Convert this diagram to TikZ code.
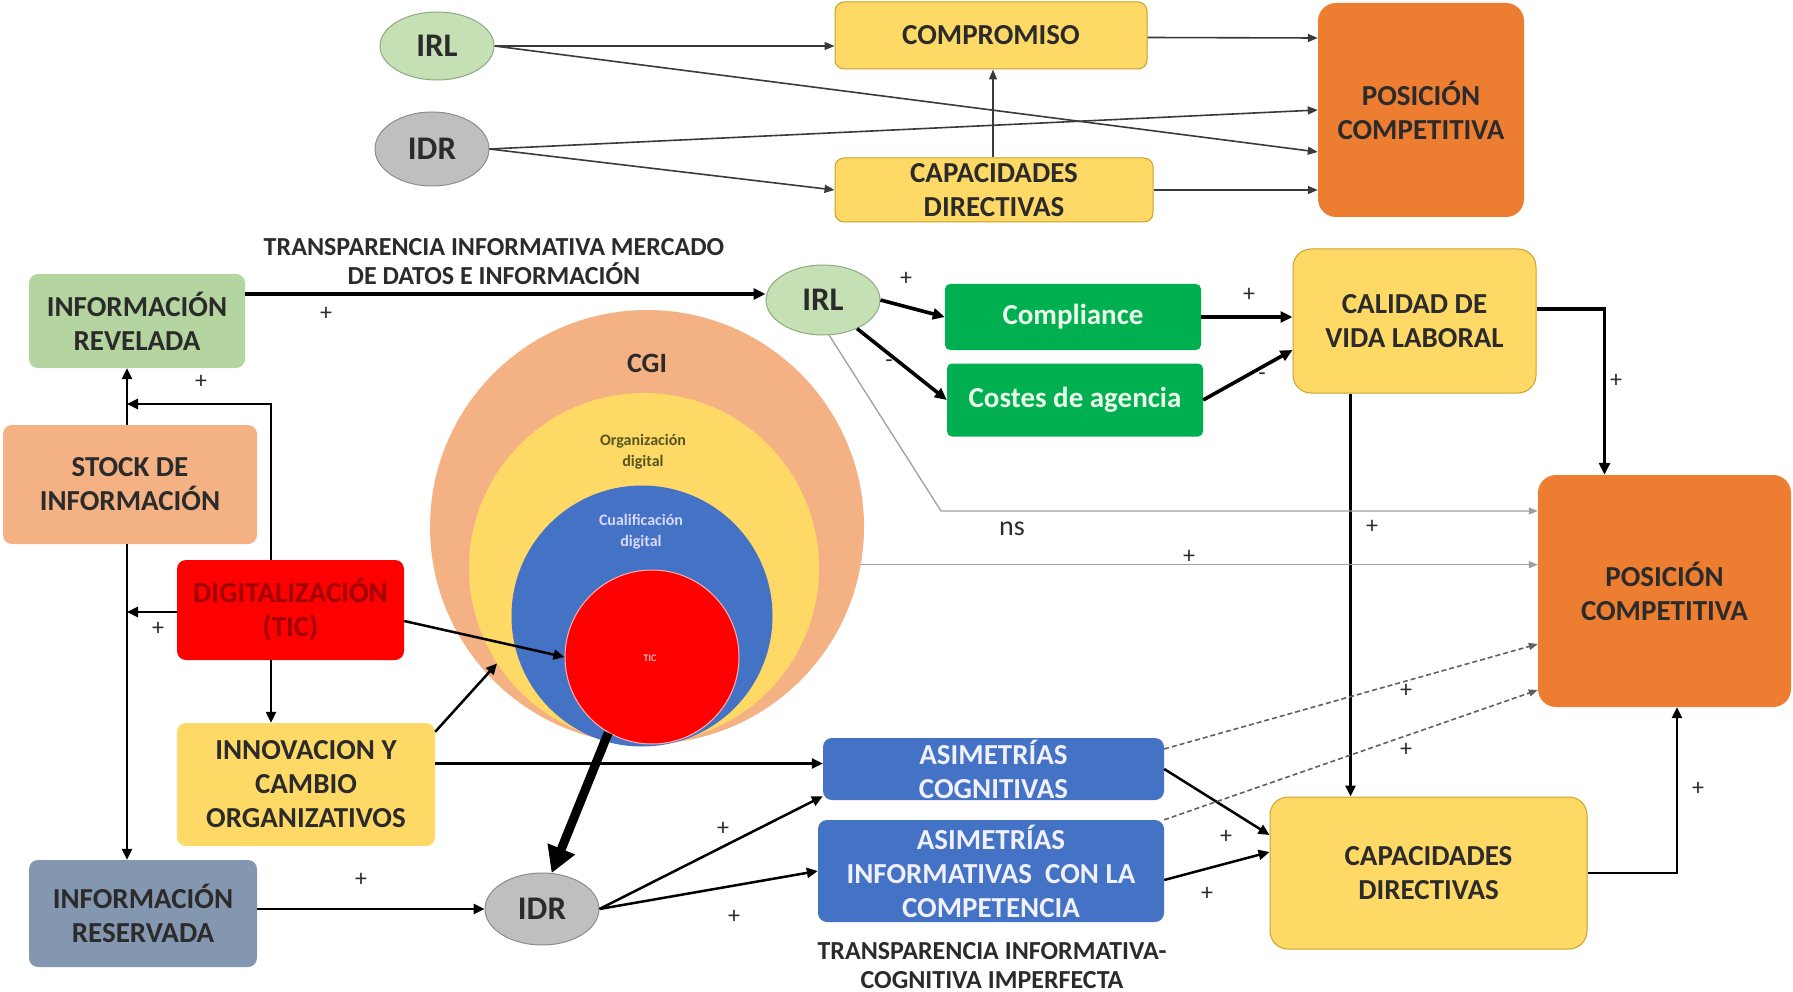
\documentclass[tikz,border=0pt]{standalone}
\usepackage{fontspec}
\setmainfont{Carlito}
\usetikzlibrary{arrows.meta,shapes.geometric,calc}

\definecolor{irlfill}{HTML}{C5E0B4}
\definecolor{irldraw}{HTML}{8FAA80}
\definecolor{idrfill}{HTML}{BFBFBF}
\definecolor{idrdraw}{HTML}{8C8C8C}
\definecolor{yel}{HTML}{FFD966}
\definecolor{yeldraw}{HTML}{C9A227}
\definecolor{orng}{HTML}{ED7D31}
\definecolor{grn}{HTML}{00B050}
\definecolor{blu}{HTML}{4472C4}
\definecolor{salm}{HTML}{F4B183}
\definecolor{revgreen}{HTML}{B4D5A0}
\definecolor{resblue}{HTML}{8497B0}
\definecolor{txt}{HTML}{2B2B2B}
\definecolor{darkred}{HTML}{A00000}
\definecolor{lineg}{HTML}{3A3A3A}

\newcommand\boxfont{\fontsize{29}{34}\selectfont\bfseries}
\newcommand\ovalfont{\fontsize{33}{36}\selectfont\bfseries}
\newcommand\signfont{\fontsize{24}{26}\selectfont}

\begin{document}
\begin{tikzpicture}[x=1pt,y=-1pt,
  box/.style={rounded corners=9pt, align=center, inner sep=0pt, font=\boxfont, text=txt},
  bigbox/.style={box, rounded corners=18pt},
  oval/.style={ellipse, inner sep=0pt, font=\ovalfont, text=txt, line width=1pt},
  ring/.style={circle, inner sep=0pt},
  caption/.style={align=center, font=\fontsize{26}{29}\selectfont\bfseries, text=txt, inner sep=0pt},
  sign/.style={font=\signfont, text=txt, inner sep=0pt},
  thinarr/.style={draw=lineg, line width=1.6pt, -{Triangle[length=10pt,width=8pt]}},
  medarr/.style={draw=black, line width=2.5pt, -{Triangle[length=11pt,width=10pt]}},
  thickarr/.style={draw=black, line width=3.6pt, -{Triangle[length=12pt,width=11pt]}},
  faintarr/.style={draw=gray!75, line width=1.3pt, -{Triangle[length=9pt,width=7pt]}},
  dasharr/.style={draw=gray!75!black, line width=1.6pt, dash pattern=on 5pt off 3pt, -{Triangle[length=9pt,width=7pt]}},
  hugearr/.style={draw=black, line width=9pt, -{Triangle[length=26pt,width=28pt]}}
]
\useasboundingbox (0,0) rectangle (1793,992);

% ---------- nested circles ----------
\node[ring, fill=salm, minimum size=434pt] (cgi) at (647,527) {};
\node[ring, fill=yel, minimum size=350pt] (org) at (644,568) {};
\node[ring, fill=blu, minimum size=261pt] (cual) at (642,616) {};
\node[ring, fill=red, draw=red!30, line width=1pt, minimum size=174pt] (tic) at (652,657) {};
\node[font=\fontsize{28}{30}\selectfont\bfseries, text=txt] (cgilab) at (647,363) {CGI};
\node[align=center, font=\fontsize{16}{21}\selectfont\bfseries, text=txt!80!yellow] (orglab) at (643,452) {Organización\\digital};
\node[align=center, font=\fontsize{16}{21}\selectfont\bfseries, text=blue!15] (cuallab) at (641,532) {Cualificación\\digital};
\node[font=\fontsize{10}{12}\selectfont, text=white] (ticlab) at (650,658) {TIC};

% ---------- upper block ----------
\node[oval, fill=irlfill, draw=irldraw, minimum width=114pt, minimum height=68pt] (irlA) at (437,46) {IRL};
\node[oval, fill=idrfill, draw=idrdraw, minimum width=114pt, minimum height=74pt] (idrA) at (432,149) {IDR};
\node[box, fill=yel, draw=yeldraw, line width=1pt, minimum width=312pt, minimum height=67pt] (comp) at (991,35.5) {COMPROMISO};
\node[box, fill=yel, draw=yeldraw, line width=1pt, minimum width=318pt, minimum height=64pt] (capA) at (994,190) {CAPACIDADES\\DIRECTIVAS};
\node[bigbox, fill=orng, minimum width=206pt, minimum height=214pt] (posA) at (1421,110) {POSICIÓN\\COMPETITIVA};

% ---------- middle block ----------
\node[caption] (capup) at (494,262) {TRANSPARENCIA INFORMATIVA MERCADO\\DE DATOS E INFORMACIÓN};
\node[box, fill=revgreen, minimum width=216pt, minimum height=94pt] (infrev) at (137,321) {INFORMACIÓN\\REVELADA};
\node[oval, fill=irlfill, draw=irldraw, minimum width=114pt, minimum height=70pt] (irlB) at (823,300) {IRL};
\node[box, fill=grn, text=white!92!green, rounded corners=5pt, minimum width=256pt, minimum height=66pt] (compl) at (1073,317) {Compliance};
\node[box, fill=grn, text=white!92!green, rounded corners=5pt, minimum width=256pt, minimum height=73pt] (costes) at (1075,400) {Costes de agencia};
\node[bigbox, fill=yel, draw=yeldraw, line width=1pt, minimum width=243pt, minimum height=144pt] (calidad) at (1414.5,321) {CALIDAD DE\\VIDA LABORAL};
\node[bigbox, fill=orng, minimum width=253pt, minimum height=232pt] (posB) at (1664.5,591) {POSICIÓN\\COMPETITIVA};

% ---------- left column ----------
\node[box, fill=salm, minimum width=254pt, minimum height=119pt] (stock) at (130,484.5) {STOCK DE\\INFORMACIÓN};
\node[box, fill=red, text=darkred, minimum width=227pt, minimum height=100pt] (dig) at (290.5,610) {DIGITALIZACIÓN\\(TIC)};
\node[box, fill=yel, minimum width=258pt, minimum height=123pt] (innov) at (306,784.5) {INNOVACION Y\\CAMBIO\\ORGANIZATIVOS};
\node[box, fill=resblue, minimum width=228pt, minimum height=107pt] (infres) at (143,913.5) {INFORMACIÓN\\RESERVADA};

% ---------- lower block ----------
\node[oval, fill=idrfill, draw=idrdraw, minimum width=114pt, minimum height=72pt] (idrB) at (542,909) {IDR};
\node[box, fill=blu, text=white!94!blue, minimum width=341pt, minimum height=62pt] (asimC) at (993.5,769) {ASIMETRÍAS\\COGNITIVAS};
\node[box, fill=blu, text=white!94!blue, minimum width=346pt, minimum height=102pt] (asimI) at (991,871) {ASIMETRÍAS\\INFORMATIVAS~ CON LA\\COMPETENCIA};
\node[caption] (capdown) at (992,966) {TRANSPARENCIA INFORMATIVA-\\COGNITIVA IMPERFECTA};
\node[bigbox, fill=yel, draw=yeldraw, line width=1pt, minimum width=317pt, minimum height=152pt] (capB) at (1428.5,873) {CAPACIDADES\\DIRECTIVAS};

% ---------- upper connectors ----------
\draw[thinarr] (irlA.east) -- (irlA.east -| comp.west);
\draw[thinarr] (irlA.east) -- ([yshift=-42pt]posA.west);
\draw[thinarr] (idrA.east) -- (posA.west);
\draw[thinarr] (idrA.east) -- (capA.west);
\draw[thinarr] ([xshift=-1pt]capA.north) -- ([xshift=-1pt]capA.north |- comp.south);
\draw[thinarr] ([yshift=-2pt]comp.east) -- ([yshift=72pt]posA.west);
\draw[thinarr] (capA.east) -- (capA.east -| posA.west);

% ---------- middle connectors ----------
\coordinate (irlBin) at ([yshift=6pt]irlB.west);
\draw[thickarr] (infrev.east |- irlBin) -- (irlBin);
\draw[thickarr] (irlB.east) -- (compl.west);
\draw[thickarr] (irlB.-40) -- (costes.west);
\draw[thickarr] (compl.east) -- (compl.east -| calidad.west);
\draw[thickarr] (costes.east) -- ([yshift=-29pt]calidad.west);
\draw[thickarr] ([yshift=12pt]calidad.east) -| ([xshift=-60pt]posB.north);
\draw[medarr] ([xshift=-64pt]calidad.south) -- ([xshift=-64pt]calidad.south |- capB.north);
\coordinate (nsbend) at (941,511);
\draw[faintarr] (irlB.-80) -- (nsbend) -- (nsbend -| posB.west);
\draw[faintarr] (cgi.-10.4) -- (cgi.-10.4 -| posB.west);

% ---------- left connectors ----------
\coordinate (joinA) at (127,404);
\coordinate (joinB) at (127,612);
\draw[medarr] ([xshift=-3pt]stock.north) -- ([xshift=-3pt]stock.north |- infrev.south);
\draw[medarr] ([xshift=-19.5pt]dig.north) |- (joinA);
\draw[medarr] (dig.west |- joinB) -- (joinB);
\draw[medarr] ([xshift=-3pt]stock.south) -- ([xshift=-3pt]stock.south |- infres.north);
\draw[medarr] ([yshift=-11pt]dig.east) -- (tic.west);
\draw[medarr] ([xshift=-19.5pt]dig.south) -- ([xshift=-19.5pt]dig.south |- innov.north);
\draw[medarr] ([yshift=-9pt]innov.north east) -- (org.213);
\draw[medarr] ([yshift=21pt]innov.east) -- ([yshift=21pt]innov.east -| asimC.west);
\draw[medarr] (infres.east |- idrB.west) -- (idrB.west);

% ---------- lower connectors ----------
\draw[hugearr] (tic.240) -- (idrB.75);
\draw[medarr] (idrB.east) -- ([yshift=4pt]asimC.south west);
\draw[medarr] (idrB.east) -- (asimI.west);
\draw[medarr] (asimC.east) -- ([yshift=38pt]capB.west);
\draw[medarr] ([yshift=-9pt]asimI.east) -- ([yshift=21pt]capB.west);
\draw[dasharr] ([yshift=20pt]asimC.east) -- ([yshift=-53pt]posB.west);
\draw[dasharr] (asimI.north east) -- ([yshift=-99pt]posB.west);
\draw[medarr] (capB.east) -| ([xshift=12.5pt]posB.south);

% ---------- signs ----------
\node[sign] (s1) at (326,314) {+};
\node[sign] (s2) at (201,382) {+};
\node[sign] (s3) at (158,629) {+};
\node[sign] (s4) at (361,880) {+};
\node[sign] (s5) at (906,279) {+};
\node[sign] (s6) at (889,364) {-};
\node[sign] (s7) at (1249,295) {+};
\node[sign] (s8) at (1262,377) {-};
\node[sign] (s9) at (1616,381) {+};
\node[sign] (s10) at (1372,527) {+};
\node[font=\fontsize{28}{30}\selectfont, text=txt] (ns) at (1012,529) {ns};
\node[sign] (s11) at (1189,557) {+};
\node[sign] (s12) at (1406,691) {+};
\node[sign] (s13) at (1406,750) {+};
\node[sign] (s14) at (1226,837) {+};
\node[sign] (s15) at (1207,894) {+};
\node[sign] (s16) at (1698,789) {+};
\node[sign] (s17) at (723,829) {+};
\node[sign] (s18) at (734,917) {+};
\end{tikzpicture}
\end{document}
